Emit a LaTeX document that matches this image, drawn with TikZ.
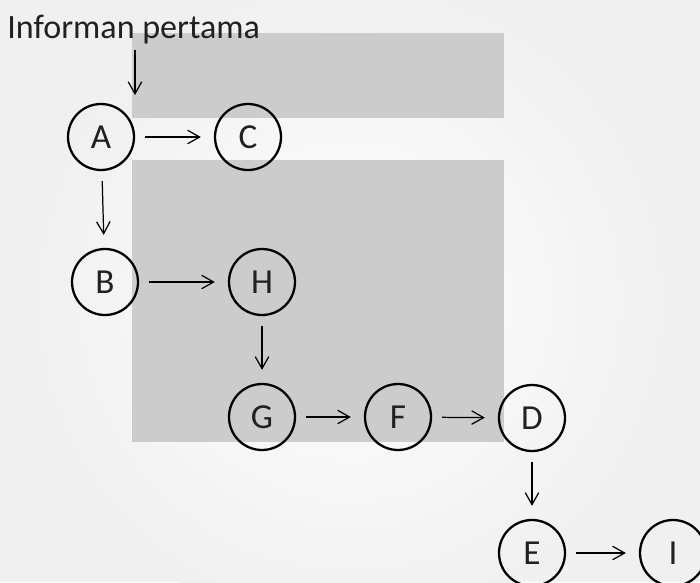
\documentclass[tikz,border=0pt]{standalone}
\usepackage{xcolor}
\usepackage{fontspec}
\usepackage{tikz}
\usetikzlibrary{positioning, arrows.meta}
\setmainfont{Carlito}
\definecolor{pagegray}{rgb}{0.94, 0.94, 0.94}
\definecolor{shadegray}{rgb}{0.80, 0.80, 0.80}
\definecolor{inkgray}{rgb}{0.13, 0.13, 0.13}
\tikzset{
    circ/.style={
        draw, circle, line width = 1.3pt,
        minimum size = 1.32cm, inner sep = 0pt,
        text = inkgray,
        font = \fontsize{20}{24}\selectfont
    },
    tip/.style = {-{Straight Barb[length=0.24cm, width=0.27cm]}, line width = 0.7pt},
    line/.style = {tip, shorten < = 0.2cm, shorten > = 0.26cm}
}
\begin{document}
\begin{tikzpicture}[x=0.02cm, y=-0.02cm]

    % Page
    \useasboundingbox (0,0) rectangle (700,582);
    \clip (0,0) rectangle (700,582);
    \fill[pagegray] (0,0) rectangle (700,582);
    \shade[inner color = white, outer color = pagegray] (350,300) circle (330);

    % Grey shading of the scan
    \fill[shadegray] (132,33) rectangle (504,118);
    \fill[shadegray] (132,160) rectangle (504,442);

    % Circles
    \node[circ] (A) at (101,137) {A};
    \node[circ] (C) at (248,137) {C};
    \node[circ] (B) at (105,282) {B};
    \node[circ] (H) at (262,282) {H};
    \node[circ] (G) at (262,417) {G};
    \node[circ] (F) at (398,417) {F};
    \node[circ] (D) at (532,418) {D};
    \node[circ] (E) at (532,553) {E};
    \node[circ] (I) at (673,553) {I};

    % Labels
    \node[anchor = base west, inner sep = 0pt, text = inkgray,
        font = \fontsize{19.4}{23}\selectfont]
        (info) at (7,38) {Informan pertama};
    \coordinate (infoend) at (135,95);

    % Arrows
    \draw[tip] (infoend |- info.south) ++(0,6) -- (infoend);
    \draw[line] (A) -- (C);
    \draw[line] (A) -- (B);
    \draw[line] (B) -- (H);
    \draw[line] (H) -- (G);
    \draw[line] (G) -- (F);
    \draw[line] (F) -- (D);
    \draw[line] (D) -- (E);
    \draw[line] (E) -- (I);

\end{tikzpicture}
\end{document}
